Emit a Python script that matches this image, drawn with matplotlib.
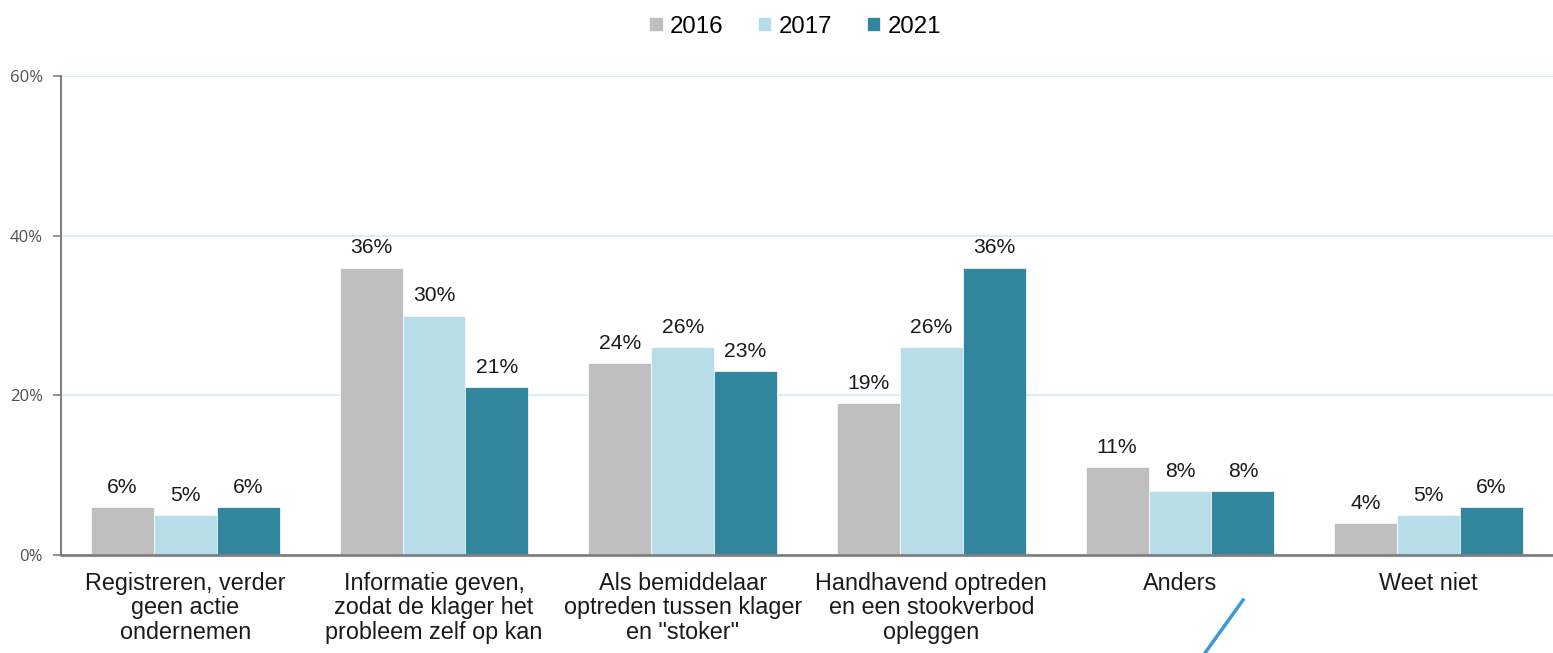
import numpy as np
import matplotlib.pyplot as plt
from matplotlib.lines import Line2D

# categorieen en waarden (%)
categories = ['Registreren, verder\ngeen actie\nondernemen',
              'Informatie geven,\nzodat de klager het\nprobleem zelf op kan',
              'Als bemiddelaar\noptreden tussen klager\nen "stoker"',
              'Handhavend optreden\nen een stookverbod\nopleggen',
              'Anders',
              'Weet niet']
years = ['2016', '2017', '2021']
v2016 = [6, 36, 24, 19, 11, 4]
v2017 = [5, 30, 26, 26, 8, 5]
v2021 = [6, 21, 23, 36, 8, 6]
colors = ['#BFBFBF', '#B7DDE8', '#31859C']

fig = plt.figure(figsize=(15.53, 6.53), dpi=100)
ax = fig.add_axes([61/1553, 98/653, 1492/1553, 479/653])

x = np.arange(len(categories))
w = 0.253
for i, (vals, col, lab) in enumerate(zip([v2016, v2017, v2021], colors, years)):
    bars = ax.bar(x + (i - 1) * w, vals, w, color=col, label=lab,
                  edgecolor='white', linewidth=0.5, zorder=2)
    for b, v in zip(bars, vals):
        ax.annotate(f'{v}%', (b.get_x() + b.get_width() / 2, v),
                    xytext=(0, 7.5), textcoords='offset points',
                    ha='center', va='bottom', fontsize=15.2,
                    family='Liberation Sans', color='#1a1a1a')

ax.set_xlim(-0.5, 5.5)
ax.set_ylim(0, 60)
ax.set_yticks([0, 20, 40, 60])
ax.set_yticklabels(['0%', '20%', '40%', '60%'], fontsize=12,
                   family='Open Sans', color='#505050')
ax.set_xticks(x)
ax.set_xticklabels(categories, fontsize=16.8, family='Liberation Sans',
                   color='#1a1a1a', linespacing=1.08)
ax.tick_params(axis='x', length=0, pad=12)
ax.tick_params(axis='y', length=6, width=1.2, color='#808080', pad=7)
ax.grid(axis='y', color='#DCEEF5', linewidth=1.5, zorder=0)
ax.set_axisbelow(True)
for s in ['top', 'right']:
    ax.spines[s].set_visible(False)
ax.spines['left'].set_color('#808080')
ax.spines['left'].set_linewidth(1.5)
ax.spines['bottom'].set_color('#808080')
ax.spines['bottom'].set_linewidth(2)

leg = fig.legend(loc='upper center', bbox_to_anchor=(0.512, 0.998), ncol=3,
                 frameon=False, handlelength=0.55, handleheight=0.55,
                 handletextpad=0.3, columnspacing=1.45, borderaxespad=0.2,
                 prop={'family': 'Liberation Sans', 'size': 17.3})

# losse blauwe streep onder "Anders"
fig.add_artist(Line2D([1243/1553, 1205/1553], [1 - 600/653, 0],
                      transform=fig.transFigure, color='#3A9AD9', linewidth=2.5))

fig.savefig('out.png', dpi=100)
